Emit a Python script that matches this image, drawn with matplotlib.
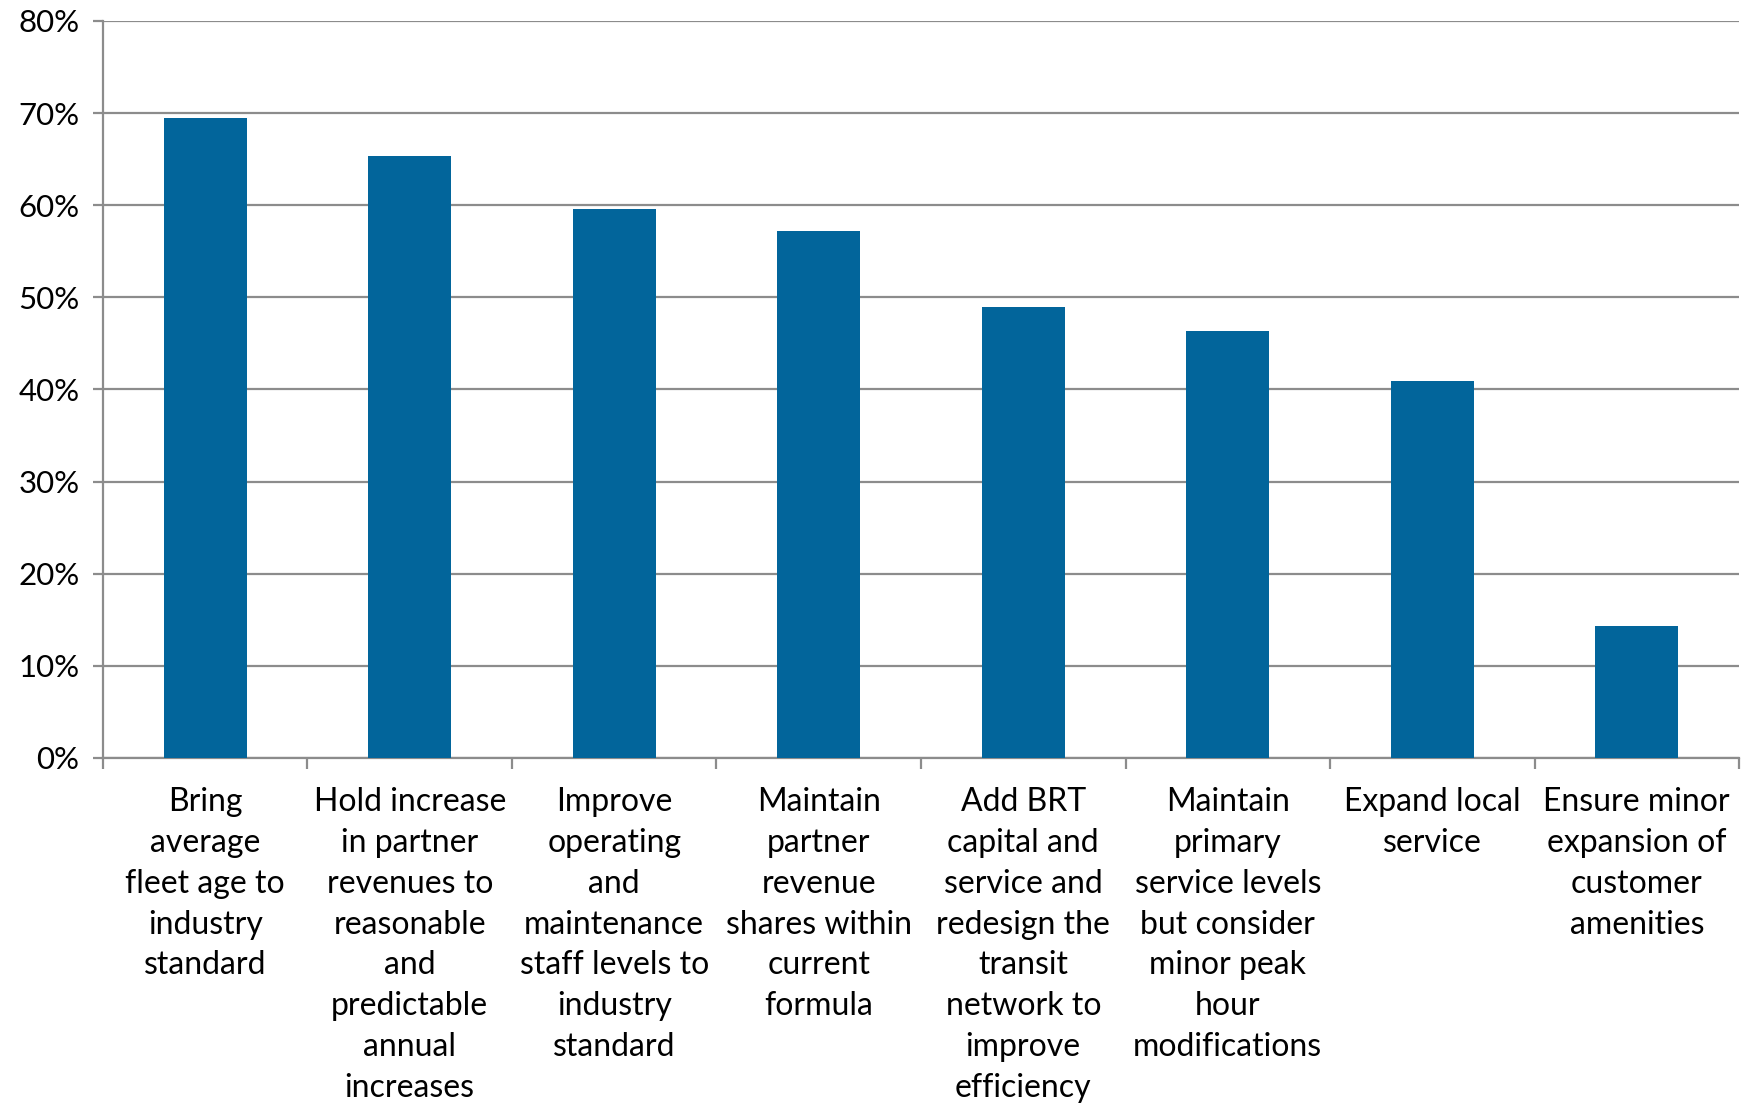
import matplotlib.pyplot as plt
from matplotlib.ticker import PercentFormatter

# values (share of respondents)
categories = [
    "Bring\naverage\nfleet age to\nindustry\nstandard",
    "Hold increase\nin partner\nrevenues to\nreasonable\nand\npredictable\nannual\nincreases",
    "Improve\noperating\nand\nmaintenance\nstaff levels to\nindustry\nstandard",
    "Maintain\npartner\nrevenue\nshares within\ncurrent\nformula",
    "Add BRT\ncapital and\nservice and\nredesign the\ntransit\nnetwork to\nimprove\nefficiency",
    "Maintain\nprimary\nservice levels\nbut consider\nminor peak\nhour\nmodifications",
    "Expand local\nservice",
    "Ensure minor\nexpansion of\ncustomer\namenities",
]
values = [69.5, 65.3, 59.6, 57.2, 48.9, 46.4, 40.9, 14.3]
y_ticks = [0, 10, 20, 30, 40, 50, 60, 70, 80]

plt.rcParams['font.family'] = ['Lato', 'DejaVu Sans']

fig = plt.figure(figsize=(17.45, 11.03), dpi=100)
ax = fig.add_axes([0.059, 0.3128, 0.9376, 0.6682])

grey = '#8c8c8c'
x = list(range(len(values)))
ax.bar(x, values, width=0.405, color='#02659B', zorder=3)

ax.set_xlim(-0.5, len(values) - 0.5)
ax.set_ylim(0, 80)
ax.set_yticks(y_ticks)
ax.yaxis.set_major_formatter(PercentFormatter(decimals=0))
ax.grid(axis='y', color=grey, linewidth=1.6, zorder=0)

# category ticks sit between the bars
ax.set_xticks([i - 0.5 for i in range(len(values) + 1)])
ax.set_xticklabels([])
ax.set_xticks(x, minor=True)
ax.set_xticklabels(categories, minor=True, fontsize=23, linespacing=1.45, va='top')
ax.tick_params(axis='x', which='minor', length=0, pad=21)
ax.tick_params(axis='x', which='major', length=8, width=1.6, color=grey)
ax.tick_params(axis='y', length=7, width=1.6, color=grey, labelsize=22.5, pad=10)

for s in ['top', 'right']:
    ax.spines[s].set_visible(False)
for s in ['left', 'bottom']:
    ax.spines[s].set_color(grey)
    ax.spines[s].set_linewidth(1.6)

fig.savefig('out.png', dpi=100)
